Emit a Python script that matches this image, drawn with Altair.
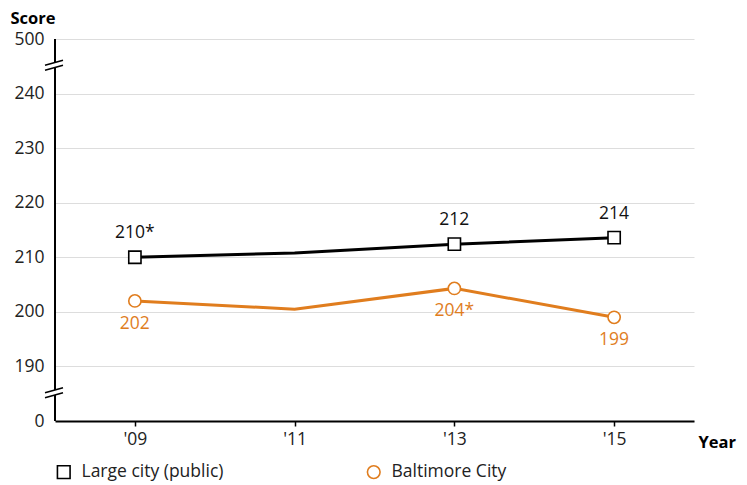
import altair as alt
import pandas as pd

years = [2009, 2011, 2013, 2015]
large_city = [210.0, 210.8, 212.4, 213.6]
baltimore = [202.0, 200.5, 204.3, 199.0]
large_labels = ["210*", "", "212", "214"]
balt_labels = ["202", "", "204*", "199"]
has_marker = [True, False, True, True]
series_names = ["Large city (public)", "Baltimore City"]
y_ticks = [180, 190, 200, 210, 220, 230, 240, 250]
break_centers = [245.24, 185.24]

BLACK = "#000000"
ORANGE = "#e07d1e"
FS = 17.5
TFS = 16.5

rows = []
for i, yr in enumerate(years):
    rows.append({"year": yr, "score": large_city[i], "series": series_names[0],
                 "label": large_labels[i], "show": has_marker[i]})
    rows.append({"year": yr, "score": baltimore[i], "series": series_names[1],
                 "label": balt_labels[i], "show": has_marker[i]})
df = pd.DataFrame(rows)

# axis line segments (broken) and break slashes
seg_rows = []
edges = [250] + [v for c in break_centers for v in (c + 0.46, c - 0.46)] + [180]
for k in range(0, len(edges), 2):
    seg_rows.append({"score": edges[k], "score2": edges[k + 1]})
seg_df = pd.DataFrame(seg_rows)

slash_rows = []
for c in break_centers:
    for off in (0.46, -0.46):
        slash_rows.append({"score": c + off - 0.51, "score2": c + off + 0.41})
slash_df = pd.DataFrame(slash_rows)

xscale = alt.Scale(domain=[2008, 2016], nice=False, zero=False)
yscale = alt.Scale(domain=[180, 250], nice=False, zero=False)

xaxis = alt.Axis(values=years, labelExpr="\"'\" + substring(toString(datum.value), 2)",
                 grid=False, domainColor=BLACK, domainWidth=2, tickColor=BLACK,
                 tickSize=5, tickWidth=1.5, labelPadding=4, labelFontSize=FS,
                 labelColor="#222", title="Year", titleAngle=0, titleX=643, titleY=26,
                 titleAlign="left", titleBaseline="alphabetic", titleFontSize=TFS,
                 titleFontWeight="bold", titleColor=BLACK)
yaxis = alt.Axis(values=y_ticks,
                 labelExpr="datum.value == 250 ? '500' : datum.value == 180 ? '0' : datum.label",
                 grid=True, gridColor="#dddddd", gridWidth=1, ticks=False, domain=False,
                 labelPadding=11, labelFontSize=FS, labelColor="#222",
                 title="Score", titleAngle=0, titleX=-45, titleY=-16, titleAlign="left",
                 titleBaseline="alphabetic", titleFontSize=TFS, titleFontWeight="bold",
                 titleColor=BLACK)

color_scale = alt.Scale(domain=series_names, range=[BLACK, ORANGE])
shape_scale = alt.Scale(domain=series_names, range=["square", "circle"])

legend = alt.Legend(title=None, orient="none", legendX=0, legendY=424,
                    direction="horizontal", labelFontSize=FS, labelColor="#222",
                    labelOffset=9, symbolSize=160, symbolStrokeWidth=1.6,
                    symbolFillColor="white", columnPadding=140, padding=0)

X = alt.X("year:Q", scale=xscale, axis=xaxis)
Y = alt.Y("score:Q", scale=yscale, axis=yaxis)

base = alt.Chart(df)

lines = base.mark_line(strokeWidth=3).encode(
    x=X, y=Y,
    color=alt.Color("series:N", scale=color_scale, legend=legend),
)

axis_line = alt.Chart(seg_df).mark_rule(color=BLACK, strokeWidth=2).encode(
    x=alt.value(0),
    y=Y,
    y2="score2:Q",
)

slashes = alt.Chart(slash_df).mark_rule(color=BLACK, strokeWidth=1.5).encode(
    x=alt.value(-10),
    x2=alt.value(8),
    y=Y,
    y2="score2:Q",
)

points = base.transform_filter("datum.show").mark_point(
    filled=False, fill="white", fillOpacity=1, opacity=1, size=150, strokeWidth=1.6
).encode(
    x=X, y=Y,
    color=alt.Color("series:N", scale=color_scale, legend=legend),
    shape=alt.Shape("series:N", scale=shape_scale, legend=legend),
)

text_black = base.transform_filter(f"datum.series == '{series_names[0]}'").mark_text(
    dy=-24, fontSize=FS, color="#111"
).encode(x=X, y=Y, text="label:N")

text_orange = base.transform_filter(f"datum.series == '{series_names[1]}'").mark_text(
    dy=23, fontSize=FS, color=ORANGE
).encode(x=X, y=Y, text="label:N")

chart = alt.layer(lines, axis_line, slashes, points, text_black, text_orange).properties(
    width=639, height=382,
    padding={"left": 47, "top": 31, "right": 45, "bottom": 64},
    autosize=alt.AutoSizeParams(type="none"),
).configure(font="Open Sans").configure_view(stroke=None)

chart.save("out.html", embed_options={"renderer": "svg", "actions": False})
